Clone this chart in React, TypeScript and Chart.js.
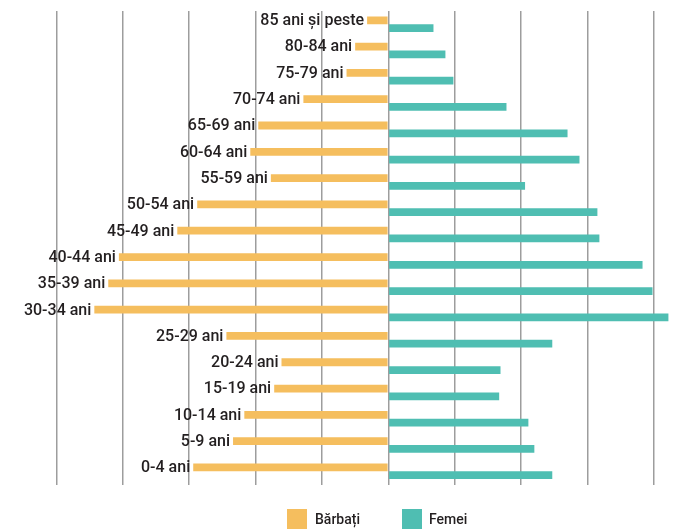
import React, { useEffect, useRef } from "react";
import { Chart, registerables } from "chart.js";

Chart.register(...registerables);

// Age groups, top to bottom
const ageGroups = [
  "85 ani și peste",
  "80-84 ani",
  "75-79 ani",
  "70-74 ani",
  "65-69 ani",
  "60-64 ani",
  "55-59 ani",
  "50-54 ani",
  "45-49 ani",
  "40-44 ani",
  "35-39 ani",
  "30-34 ani",
  "25-29 ani",
  "20-24 ani",
  "15-19 ani",
  "10-14 ani",
  "5-9 ani",
  "0-4 ani",
];

// Men (drawn to the left)
const men = [0.32, 0.5, 0.63, 1.28, 1.96, 2.08, 1.77, 2.88, 3.18, 4.06, 4.22, 4.43, 2.44, 1.61, 1.72, 2.17, 2.34, 2.94];

// Women (drawn to the right)
const women = [0.68, 0.86, 0.98, 1.78, 2.7, 2.88, 2.06, 3.15, 3.18, 3.83, 3.98, 4.22, 2.47, 1.69, 1.67, 2.11, 2.2, 2.47];

const seriesNames = ["Bărbați", "Femei"];
const seriesColors = ["#F5BE5E", "#4FBEB2"];

// Vertical grid line positions
const gridValues = [-5, -4, -3, -2, -1, 0, 1, 2, 3, 4];

const ageLabelPlugin = {
  id: "ageLabels",
  afterDraw(chart: any) {
    const meta = chart.getDatasetMeta(0);
    const ctx = chart.ctx;
    ctx.save();
    ctx.font = "500 16px Roboto";
    ctx.fillStyle = "#231F20";
    ctx.textAlign = "right";
    ctx.textBaseline = "alphabetic";
    meta.data.forEach((bar: any, i: number) => {
      const { x, y, height } = bar.getProps(["x", "y", "height"], true);
      ctx.fillText(String(chart.data.labels[i]), x - 3, y + height / 2 + 1);
    });
    ctx.restore();
  },
};

export default function App() {
  const canvasRef = useRef<HTMLCanvasElement | null>(null);

  useEffect(() => {
    if (!canvasRef.current) return;
    const chart = new Chart(canvasRef.current, {
      type: "bar",
      data: {
        labels: ageGroups,
        datasets: [
          {
            label: seriesNames[0],
            data: men.map((v) => -v),
            backgroundColor: seriesColors[0],
            borderWidth: 0,
            categoryPercentage: 0.59,
            barPercentage: 1,
          },
          {
            label: seriesNames[1],
            data: women,
            backgroundColor: seriesColors[1],
            borderWidth: 0,
            categoryPercentage: 0.59,
            barPercentage: 1,
          },
        ],
      },
      options: {
        indexAxis: "y",
        responsive: true,
        maintainAspectRatio: false,
        animation: false,
        layout: { padding: { left: 56.5, right: 10, top: 11, bottom: 46.5 } },
        plugins: {
          legend: { display: false },
          tooltip: { enabled: false },
        },
        scales: {
          x: {
            type: "linear",
            min: -5,
            max: 4.5,
            z: 1,
            border: { display: false },
            ticks: { display: false },
            grid: { color: "#9d9d9d", lineWidth: 1.5, drawTicks: false },
            afterBuildTicks: (axis: any) => {
              axis.ticks = gridValues.map((value) => ({ value }));
            },
          },
          y: { display: false },
        },
      },
      plugins: [ageLabelPlugin],
    } as any);
    return () => chart.destroy();
  }, []);

  const legendText: React.CSSProperties = {
    font: "500 14px Roboto",
    color: "#231F20",
    lineHeight: "20px",
    whiteSpace: "nowrap",
  };

  return (
    <div style={{ position: "fixed", left: 0, top: 0, width: 697, height: 531, background: "#fff" }}>
      <div style={{ position: "absolute", left: 0, top: 0, width: 697, height: 531 }}>
        <canvas ref={canvasRef} />
      </div>
      <div
        style={{
          position: "absolute",
          left: 287,
          top: 509,
          display: "flex",
          alignItems: "center",
        }}
      >
        <div style={{ display: "flex", alignItems: "center", width: 115 }}>
          <span style={{ width: 20, height: 20, background: seriesColors[0], marginRight: 8, display: "inline-block" }} />
          <span style={legendText}>{seriesNames[0]}</span>
        </div>
        <div style={{ display: "flex", alignItems: "center" }}>
          <span style={{ width: 20, height: 20, background: seriesColors[1], marginRight: 7, display: "inline-block" }} />
          <span style={legendText}>{seriesNames[1]}</span>
        </div>
      </div>
    </div>
  );
}
